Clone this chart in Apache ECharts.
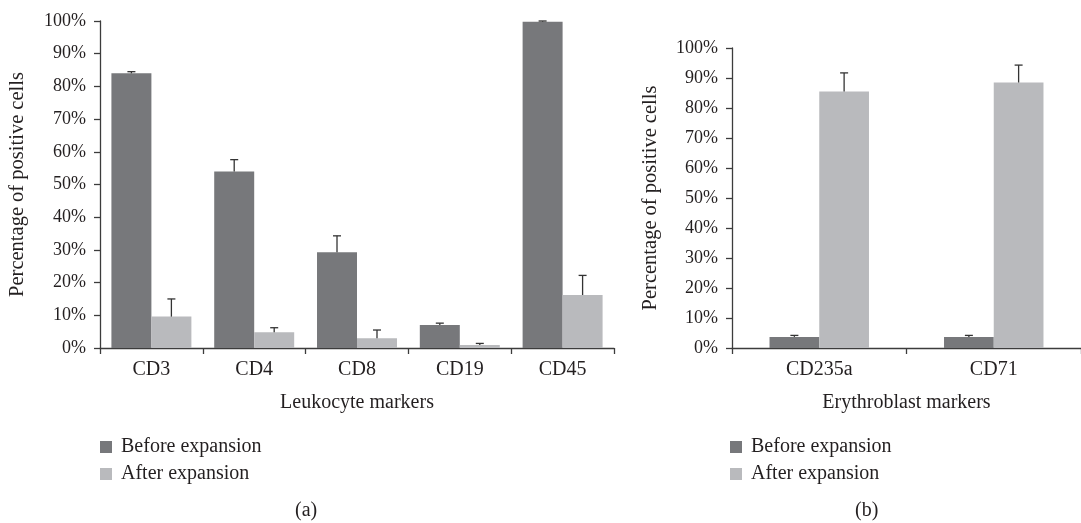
<!DOCTYPE html>
<html>
<head>
<meta charset="utf-8">
<script src="https://cdn.jsdelivr.net/npm/echarts@6/dist/echarts.min.js"></script>
<style>
  html, body { margin: 0; padding: 0; background: #fff; }
  #chart { width: 1081px; height: 523px; }
</style>
</head>
<body>
<div id="chart"></div>
<script>
// Panel (a): leukocyte markers
const leukoCategories = ['CD3', 'CD4', 'CD8', 'CD19', 'CD45'];
const leukoBefore     = [84.0, 54.0, 29.3, 7.0, 99.8];
const leukoBeforeErr  = [0.5, 3.6, 5.0, 0.6, 0.2];
const leukoAfter      = [9.6, 4.8, 3.0, 0.9, 16.2];
const leukoAfterErr   = [5.4, 1.4, 2.5, 0.5, 6.0];

// Panel (b): erythroblast markers
const eryCategories = ['CD235a', 'CD71'];
const eryBefore     = [3.7, 3.7];
const eryBeforeErr  = [0.5, 0.5];
const eryAfter      = [85.5, 88.5];
const eryAfterErr   = [6.2, 5.8];

const yTicks = [0, 10, 20, 30, 40, 50, 60, 70, 80, 90, 100];

const seriesNames = ['Before expansion', 'After expansion'];
const DARK = '#77787b';
const LIGHT = '#b9babd';
const INK = '#231f20';
const AXIS = '#3c3c3c';
const FONT = '"Liberation Serif", "DejaVu Serif", serif';
const TEXT_SIZE = 20;

const chart = echarts.init(document.getElementById('chart'), null, { renderer: 'canvas' });

function yAxisFor(gridIndex, gap) {
  return {
    type: 'value',
    gridIndex: gridIndex,
    min: yTicks[0],
    max: yTicks[yTicks.length - 1],
    interval: 10,
    name: 'Percentage of positive cells',
    nameLocation: 'middle',
    nameGap: gap,
    nameTextStyle: { fontFamily: FONT, fontSize: 20.5, color: INK },
    axisLine: { show: true, lineStyle: { color: AXIS, width: 1.3 } },
    axisTick: { show: true, inside: false, length: 6, lineStyle: { color: AXIS, width: 1.3 } },
    splitLine: { show: false },
    axisLabel: {
      margin: 14,
      fontFamily: FONT, fontSize: 18, color: INK,
      formatter: v => v + '%'
    }
  };
}

function xAxisFor(gridIndex, cats, name) {
  return {
    type: 'category',
    gridIndex: gridIndex,
    data: cats,
    name: name,
    nameLocation: 'middle',
    nameGap: 45,
    nameTextStyle: { fontFamily: FONT, fontSize: TEXT_SIZE, color: INK },
    axisLine: { show: true, lineStyle: { color: AXIS, width: 1.3 } },
    axisTick: { show: true, length: 6, lineStyle: { color: AXIS, width: 1.3 } },
    axisLabel: { margin: 12, fontFamily: FONT, fontSize: TEXT_SIZE, color: INK }
  };
}

// Upper error whisker for one bar of a two-bar group.
// side: -1 for the left bar, +1 for the right bar; frac: bar width as share of the band.
function errorBars(axisIndex, values, errs, side, frac) {
  return {
    type: 'custom',
    xAxisIndex: axisIndex,
    yAxisIndex: axisIndex,
    z: 5,
    silent: true,
    encode: { x: 0, y: 1 },
    data: values.map((v, i) => [i, v, errs[i]]),
    renderItem: function (params, api) {
      const i = api.value(0);
      const v = api.value(1);
      const e = api.value(2);
      const band = api.size([1, 0])[0];
      const dx = side * band * frac / 2;
      const base = api.coord([i, v]);
      const top = api.coord([i, v + e]);
      const x = base[0] + dx;
      const cap = 4;
      const style = { stroke: '#333333', lineWidth: 1.3 };
      return {
        type: 'group',
        children: [
          { type: 'line', shape: { x1: x, y1: base[1], x2: x, y2: top[1] }, style: style },
          { type: 'line', shape: { x1: x - cap, y1: top[1], x2: x + cap, y2: top[1] }, style: style }
        ]
      };
    }
  };
}

function barSeries(name, axisIndex, values, color, width) {
  return {
    name: name,
    type: 'bar',
    xAxisIndex: axisIndex,
    yAxisIndex: axisIndex,
    data: values,
    barWidth: width,
    barGap: '0%',
    itemStyle: { color: color },
    emphasis: { disabled: true }
  };
}

const LEFT_FRAC = 0.389;
const RIGHT_FRAC = 0.285;

function legendAt(left) {
  return {
    orient: 'vertical',
    left: left,
    top: 432,
    itemWidth: 12,
    itemHeight: 12,
    itemGap: 7,
    icon: 'rect',
    selectedMode: false,
    data: seriesNames,
    textStyle: { fontFamily: FONT, fontSize: TEXT_SIZE, color: INK, padding: [0, 0, 0, 4] }
  };
}

chart.setOption({
  animation: false,
  backgroundColor: '#ffffff',
  grid: [
    { left: 100, top: 21, width: 514, height: 327 },
    { left: 732, top: 48, width: 359, height: 300 }
  ],
  xAxis: [
    xAxisFor(0, leukoCategories, 'Leukocyte markers'),
    xAxisFor(1, eryCategories, 'Erythroblast markers')
  ],
  yAxis: [yAxisFor(0, 72), yAxisFor(1, 71)],
  legend: [legendAt(95), legendAt(725)],
  graphic: [
    { type: 'text', left: 295, top: 501, style: { text: '(a)', font: TEXT_SIZE + 'px ' + FONT, fill: INK } },
    { type: 'text', left: 855, top: 501, style: { text: '(b)', font: TEXT_SIZE + 'px ' + FONT, fill: INK } }
  ],
  series: [
    barSeries(seriesNames[0], 0, leukoBefore, DARK, (LEFT_FRAC * 100) + '%'),
    barSeries(seriesNames[1], 0, leukoAfter, LIGHT, (LEFT_FRAC * 100) + '%'),
    errorBars(0, leukoBefore, leukoBeforeErr, -1, LEFT_FRAC),
    errorBars(0, leukoAfter, leukoAfterErr, 1, LEFT_FRAC),
    barSeries(seriesNames[0], 1, eryBefore, DARK, (RIGHT_FRAC * 100) + '%'),
    barSeries(seriesNames[1], 1, eryAfter, LIGHT, (RIGHT_FRAC * 100) + '%'),
    errorBars(1, eryBefore, eryBeforeErr, -1, RIGHT_FRAC),
    errorBars(1, eryAfter, eryAfterErr, 1, RIGHT_FRAC)
  ]
});
</script>
</body>
</html>
